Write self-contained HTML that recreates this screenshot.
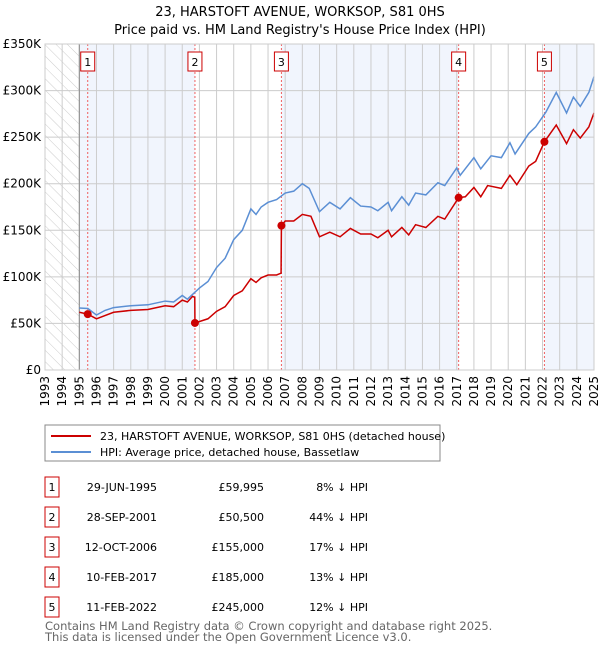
<!DOCTYPE html>
<html><head><meta charset="utf-8"><style>
body{margin:0;background:#fff;font-family:"Liberation Sans","DejaVu Sans",sans-serif;}
svg text{font-family:"DejaVu Sans","Liberation Sans",sans-serif;}
</style></head><body>
<svg id="c" width="600" height="650">
<defs><pattern id="hatch" width="8" height="8" patternUnits="userSpaceOnUse" patternTransform="rotate(-45)"><line x1="0" y1="0" x2="0" y2="8" stroke="#ccc" stroke-width="1"/></pattern></defs>
<text x="300" y="16" text-anchor="middle" font-size="13">23, HARSTOFT AVENUE, WORKSOP, S81 0HS</text>
<text x="300" y="34" text-anchor="middle" font-size="13">Price paid vs. HM Land Registry's House Price Index (HPI)</text>
<g id="plot"></g>
<rect x="45" y="425" width="395" height="36" fill="#fff" stroke="#888"/>
<line x1="51" y1="436" x2="91" y2="436" stroke="#cc0000" stroke-width="2"/>
<text x="100" y="440" font-size="11">23, HARSTOFT AVENUE, WORKSOP, S81 0HS (detached house)</text>
<line x1="51" y1="452" x2="91" y2="452" stroke="#5b8fd4" stroke-width="2"/>
<text x="100" y="456" font-size="11">HPI: Average price, detached house, Bassetlaw</text>
<g id="table" font-size="11"></g>
<text x="45" y="630" font-size="11.5" fill="#666">Contains HM Land Registry data © Crown copyright and database right 2025.</text>
<text x="45" y="641" font-size="11.5" fill="#666">This data is licensed under the Open Government Licence v3.0.</text>
</svg>
<script>
const hpiYears=[1995.0,1995.5,1996.0,1996.5,1997,1998,1999,2000,2000.5,2001,2001.3,2002,2002.5,2003,2003.5,2004,2004.5,2005,2005.3,2005.6,2006,2006.5,2007,2007.5,2008,2008.4,2009,2009.6,2010.2,2010.8,2011.4,2012,2012.4,2013,2013.2,2013.8,2014.2,2014.6,2015.2,2015.9,2016.3,2017,2017.2,2018,2018.4,2019,2019.6,2020.1,2020.4,2021.2,2021.6,2022.2,2022.8,2023.4,2023.8,2024.2,2024.7,2025.0];
const hpiValues=[66.6,66,59,64,67,69,70,74,73,80,76,88,95,110,120,140,150,173,167,175,180,183,190,192,200,195,170,180,173,185,176,175,171,180,171,186,177,190,188,201,198,217,209,228,216,230,228,244,232,254,261,277,298,276,293,283,298,315];
const redYears=[1995.0,1995.49,1996.0,1997,1998,1999,2000,2000.5,2001.0,2001.3,2001.6,2001.73,2001.74,2002.5,2003,2003.5,2004,2004.5,2005,2005.3,2005.6,2006,2006.5,2006.76,2006.78,2007,2007.5,2008,2008.5,2009,2009.6,2010.2,2010.8,2011.4,2012,2012.4,2013,2013.2,2013.8,2014.2,2014.6,2015.2,2015.9,2016.3,2017.11,2017.5,2018,2018.4,2018.8,2019.6,2020.1,2020.5,2021.2,2021.6,2022.11,2022.8,2023.4,2023.8,2024.2,2024.7,2025.0];
const redValues=[62,60,55,62,64,65,69,68,75,73,79,78,50.5,55,63,68,80,85,98,94,99,102,102,104,155,160,160,167,165,143,148,143,152,146,146,142,150,143,153,145,156,153,165,162,185,186,196,186,198,195,209,199,219,224,245,263,243,258,249,261,276];
const saleYears=[1995.49,2001.74,2006.78,2017.11,2022.11];
const salePrices=[59.995,50.5,155,185,245];
const saleLabels=["1","2","3","4","5"];
const saleDates=["29-JUN-1995","28-SEP-2001","12-OCT-2006","10-FEB-2017","11-FEB-2022"];
const salePriceText=["£59,995","£50,500","£155,000","£185,000","£245,000"];
const saleHpiText=["8% ↓ HPI","44% ↓ HPI","17% ↓ HPI","13% ↓ HPI","12% ↓ HPI"];
const yTicks=[0,50,100,150,200,250,300,350];
const yTickLabels=["£0","£50K","£100K","£150K","£200K","£250K","£300K","£350K"];
const xTicks=[1993,1994,1995,1996,1997,1998,1999,2000,2001,2002,2003,2004,2005,2006,2007,2008,2009,2010,2011,2012,2013,2014,2015,2016,2017,2018,2019,2020,2021,2022,2023,2024,2025];

const NS="http://www.w3.org/2000/svg";
const X0=45,X1=594,Y0=370,Y1=44;
const x=v=>X0+(v-1993)/(2025-1993)*(X1-X0);
const y=v=>Y0-v/350*(Y0-Y1);
const plot=document.getElementById('plot');
function mk(tag,attrs,parent){const e=document.createElementNS(NS,tag);for(const k in attrs)e.setAttribute(k,attrs[k]);(parent||plot).appendChild(e);return e;}

// bands
const bandEdges=[1995,...saleYears.slice(1),2025];
for(let i=0;i<bandEdges.length-1;i++){
  if(i%2===0){const r=mk('rect',{x:x(bandEdges[i]),y:Y1,width:x(bandEdges[i+1])-x(bandEdges[i]),height:Y0-Y1,fill:'#eef3fc',opacity:0.8});
  
  }
}
const h=mk('rect',{x:X0,y:Y1,width:x(1995)-X0,height:Y0-Y1,fill:'url(#hatch)'});


// grid
yTicks.forEach((t,i)=>{
  const l=mk('line',{x1:X0,x2:X1,y1:y(t),y2:y(t),stroke:'#ccc'});
  
  
  const tx=mk('text',{x:X0-4,y:y(t)+4,'text-anchor':'end','font-size':12});
  tx.textContent=yTickLabels[i];
  
  
});
xTicks.forEach(t=>{
  const l=mk('line',{x1:x(t),x2:x(t),y1:Y1,y2:Y0,stroke:'#ccc'});
  
  
  const tx=mk('text',{x:0,y:0,'text-anchor':'end','font-size':12,transform:`translate(${x(t)+4},${Y0+6}) rotate(-90)`});
  tx.textContent=t;
  
  
});
const ax=mk('line',{x1:x(1995),x2:x(1995),y1:Y1,y2:Y0,stroke:'#888'});


// sale vlines + labels
saleYears.forEach((s,i)=>{
  const l=mk('line',{x1:x(s),x2:x(s),y1:Y1,y2:Y0,stroke:'#f06060','stroke-dasharray':'2,2'});
  
  
  const b=mk('rect',{x:x(s)-7,y:52,width:14,height:19,fill:'#fff',stroke:'#cc0000'});
  
  
  const t=mk('text',{x:x(s),y:66,'text-anchor':'middle','font-size':11});
  t.textContent=saleLabels[i];
  
  
});
function line(xs,vs,c,name){
  const p=mk('polyline',{points:xs.map((a,i)=>x(a)+','+y(vs[i])).join(' '),fill:'none',stroke:c,'stroke-width':1.5});
  
  
}
line(hpiYears,hpiValues,'#5b8fd4','hpi-line');
line(redYears,redValues,'#cc0000','property-price-line');
saleYears.forEach((s,i)=>{
  const c=mk('circle',{cx:x(s),cy:y(salePrices[i]),r:4,fill:'#cc0000'});
  
  
});
const bd=mk('rect',{x:X0,y:Y1,width:X1-X0,height:Y0-Y1,fill:'none',stroke:'#ccc'});


// table
const tb=document.getElementById('table');
saleLabels.forEach((lb,i)=>{
  const ry=483+i*30;
  const b=mk('rect',{x:45,y:ry-6,width:14,height:20,fill:'#fff',stroke:'#cc0000'},tb);
  
  
  const cells=[[52,'middle',lb],[157,'end',saleDates[i]],[264,'end',salePriceText[i]],[368,'end',saleHpiText[i]]];
  cells.forEach((c,j)=>{
    const t=mk('text',{x:c[0],y:ry+8,'text-anchor':c[1]},tb);
    t.textContent=c[2];
    
    
  });
});
</script>
</body></html>
